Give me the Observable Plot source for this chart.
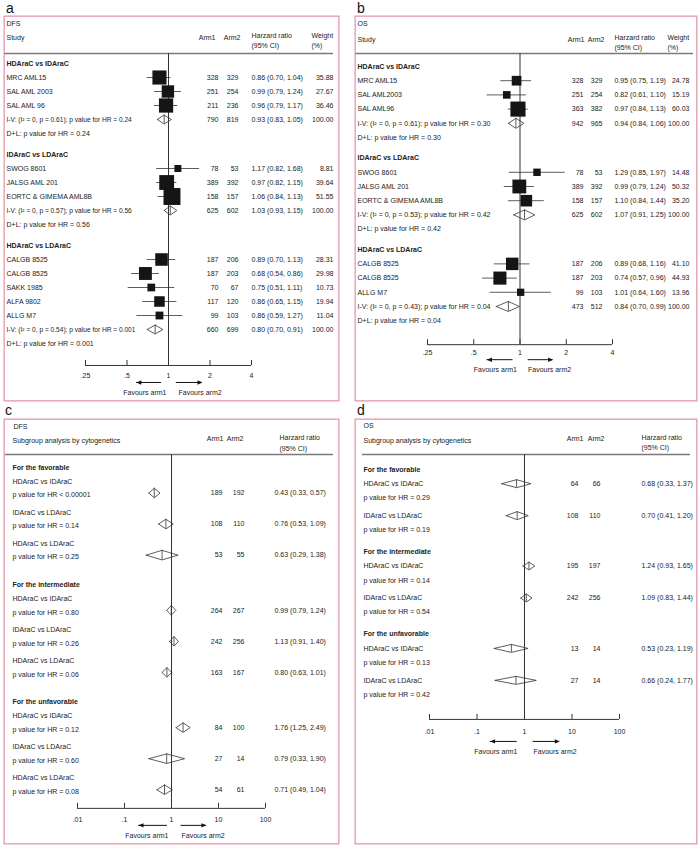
<!DOCTYPE html>
<html><head><meta charset="utf-8">
<script src="https://cdn.jsdelivr.net/npm/d3@7"></script>
<script src="https://cdn.jsdelivr.net/npm/@observablehq/plot@0.6"></script>
<style>
body{margin:0;background:#fff;}
#root{position:relative;width:700px;height:847px;font-family:"Liberation Sans",Arial,sans-serif;overflow:hidden;}
.lbl{position:absolute;font-size:14px;line-height:14px;color:#111;}
</style></head><body><div id="root"></div>
<script>
const FONT = "'Liberation Sans', Arial, Helvetica, sans-serif";
const INK = "#222";
const PINK = "#e597aa";

// ---------- Panel a: DFS ----------
const aGroups = ["HDAraC vs IDAraC", "IDAraC vs LDAraC", "HDAraC vs LDAraC"];
const aStudies = ["MRC AML15","SAL AML 2003","SAL AML 96","SWOG 8601","JALSG AML 201","EORTC & GIMEMA AML8B","CALGB 8525","CALGB 8525","SAKK 1985","ALFA 9802","ALLG M7"];
const aStudyGroup = [0,0,0,1,1,1,2,2,2,2,2];
const aArm1 = [328,251,211,78,389,158,187,187,70,117,99];
const aArm2 = [329,254,236,53,392,157,206,203,67,120,103];
const aHR = [0.86,0.99,0.96,1.17,0.97,1.06,0.89,0.68,0.75,0.86,0.86];
const aLo = [0.70,0.79,0.79,0.82,0.82,0.84,0.70,0.54,0.51,0.65,0.59];
const aHi = [1.04,1.24,1.17,1.68,1.15,1.13,1.13,0.86,1.11,1.15,1.27];
const aWeight = [35.88,27.67,36.46,8.81,39.64,51.55,28.31,29.98,10.73,19.94,11.04];
const aPoolArm1 = [790,625,660];
const aPoolArm2 = [819,602,699];
const aPoolHR = [0.93,1.03,0.80];
const aPoolLo = [0.83,0.93,0.70];
const aPoolHi = [1.05,1.15,0.91];
const aHetP = ["0.61","0.57","0.54"];
const aPoolP = ["0.24","0.56","0.001"];
const aTicks = [0.25,0.5,1,2,4];
const aTickLabels = [".25",".5","1","2","4"];

// ---------- Panel b: OS ----------
const bGroups = ["HDAraC vs IDAraC", "IDAraC vs LDAraC", "HDAraC vs LDAraC"];
const bStudies = ["MRC AML15","SAL AML2003","SAL AML96","SWOG 8601","JALSG AML 201","EORTC & GIMEMA AML8B","CALGB 8525","CALGB 8525","ALLG M7"];
const bStudyGroup = [0,0,0,1,1,1,2,2,2];
const bArm1 = [328,251,363,78,389,158,187,187,99];
const bArm2 = [329,254,382,53,392,157,206,203,103];
const bHR = [0.95,0.82,0.97,1.29,0.99,1.10,0.89,0.74,1.01];
const bLo = [0.75,0.61,0.84,0.85,0.79,0.84,0.68,0.57,0.64];
const bHi = [1.19,1.10,1.13,1.97,1.24,1.44,1.16,0.96,1.60];
const bWeight = [24.78,15.19,60.03,14.48,50.32,35.20,41.10,44.93,13.96];
const bPoolArm1 = [942,625,473];
const bPoolArm2 = [965,602,512];
const bPoolHR = [0.94,1.07,0.84];
const bPoolLo = [0.84,0.91,0.70];
const bPoolHi = [1.06,1.25,0.99];
const bHetP = ["0.61","0.53","0.43"];
const bPoolP = ["0.30","0.42","0.04"];
const bTicks = [0.25,0.5,1,2,4];
const bTickLabels = [".25",".5","1","2","4"];

// ---------- Panel c: DFS subgroups ----------
const cGroups = ["For the favorable","For the intermediate","For the unfavorable"];
const cComps = ["HDAraC vs IDAraC","IDAraC vs LDAraC","HDAraC vs LDAraC","HDAraC vs IDAraC","IDAraC vs LDAraC","HDAraC vs LDAraC","HDAraC vs IDAraC","IDAraC vs LDAraC","HDAraC vs LDAraC"];
const cCompGroup = [0,0,0,1,1,1,2,2,2];
const cArm1 = [189,108,53,264,242,163,84,27,54];
const cArm2 = [192,110,55,267,256,167,100,14,61];
const cHR = [0.43,0.76,0.63,0.99,1.13,0.80,1.76,0.79,0.71];
const cLo = [0.33,0.53,0.29,0.79,0.91,0.63,1.25,0.33,0.49];
const cHi = [0.57,1.09,1.38,1.24,1.40,1.01,2.49,1.90,1.04];
const cP = ["< 0.00001","= 0.14","= 0.25","= 0.80","= 0.26","= 0.06","= 0.12","= 0.60","= 0.08"];
const cTicks = [0.01,0.1,1,10,100];
const cTickLabels = [".01",".1","1","10","100"];

// ---------- Panel d: OS subgroups ----------
const dGroups = ["For the favorable","For the intermediate","For the unfavorable"];
const dComps = ["HDAraC vs IDAraC","IDAraC vs LDAraC","HDAraC vs IDAraC","IDAraC vs LDAraC","HDAraC vs IDAraC","IDAraC vs LDAraC"];
const dCompGroup = [0,0,1,1,2,2];
const dArm1 = [64,108,195,242,13,27];
const dArm2 = [66,110,197,256,14,14];
const dHR = [0.68,0.70,1.24,1.09,0.53,0.66];
const dLo = [0.33,0.41,0.93,0.83,0.23,0.24];
const dHi = [1.37,1.20,1.65,1.44,1.19,1.77];
const dP = ["= 0.29","= 0.19","= 0.14","= 0.54","= 0.13","= 0.42"];
const dTicks = [0.01,0.1,1,10,100];
const dTickLabels = [".01",".1","1","10","100"];

// ---------- helpers ----------
const fmtHR = (h, l, u) => `${h.toFixed(2)} (${l.toFixed(2)}, ${u.toFixed(2)})`;
const triLeft = {draw(ctx, size) { const r = Math.sqrt(size / Math.PI); ctx.moveTo(0, 0); ctx.lineTo(2.2 * r, -r); ctx.lineTo(2.2 * r, r); ctx.closePath(); }};
const triRight = {draw(ctx, size) { const r = Math.sqrt(size / Math.PI); ctx.moveTo(0, 0); ctx.lineTo(-2.2 * r, -r); ctx.lineTo(-2.2 * r, r); ctx.closePath(); }};

function textMark(fs) {
  const base = {frameAnchor: "left", fill: INK, fontSize: fs};
  return (t, row, dx, anchor = "start", extra = {}) =>
    Plot.text([t], {...base, y: [row], text: d => d, dx, textAnchor: anchor, ...extra});
}

function axisMarks(o, axisRow, L) {
  const last = o.ticks.length - 1;
  return [
    Plot.ruleY([0], {y: () => axisRow, x1: () => o.ticks[0], x2: () => o.ticks[last], stroke: "#333", strokeWidth: 1}),
    Plot.ruleX(o.ticks, {x: d => d, y1: () => axisRow, y2: () => axisRow - 5 / L, stroke: "#333", strokeWidth: 1}),
    Plot.text(o.ticks, {x: d => d, y: () => axisRow, text: (d, i) => o.tickLabels[i], dy: o.tickDy, fontSize: 7, fill: INK}),
    Plot.ruleY([0], {y: () => axisRow, x1: () => o.arrL[0], x2: () => o.arrL[1], dy: o.arrowDy, stroke: "#111", strokeWidth: 1}),
    Plot.ruleY([0], {y: () => axisRow, x1: () => o.arrR[0], x2: () => o.arrR[1], dy: o.arrowDy, stroke: "#111", strokeWidth: 1}),
    Plot.dot([0], {x: () => o.arrL[1], y: () => axisRow, dy: o.arrowDy, symbol: triLeft, r: 2.2, fill: "#111", stroke: "none"}),
    Plot.dot([0], {x: () => o.arrR[1], y: () => axisRow, dy: o.arrowDy, symbol: triRight, r: 2.2, fill: "#111", stroke: "none"}),
    Plot.text(["Favours arm1"], {x: () => 1, y: () => axisRow, dy: o.favDy, dx: o.favDx[0], textAnchor: "end", fontSize: 7, fill: INK}),
    Plot.text(["Favours arm2"], {x: () => 1, y: () => axisRow, dy: o.favDy, dx: o.favDx[1], textAnchor: "start", fontSize: 7, fill: INK})
  ];
}

function metaPanel(o) {
  const L = o.L;
  const studies = [], pools = [], heads = [];
  let r = 0;
  o.groups.forEach((g, gi) => {
    heads.push({label: g, row: r}); r += 1;
    o.studies.forEach((s, i) => {
      if (o.studyGroup[i] !== gi) return;
      studies.push({name: s, a1: o.arm1[i], a2: o.arm2[i], hr: o.hr[i], lo: o.lo[i], hi: o.hi[i], w: o.weight[i], row: r});
      r += 1;
    });
    pools.push({a1: o.poolArm1[gi], a2: o.poolArm2[gi], hr: o.poolHR[gi], lo: o.poolLo[gi], hi: o.poolHi[gi], het: o.hetP[gi], p: o.poolP[gi], row: r, id: gi});
    r += 2 + o.gap;
  });
  const axisRow = pools[pools.length - 1].row + 1 + o.axisGap;
  const R = px => (px - o.top) / L;
  const h = o.dh / L;
  const diamonds = pools.flatMap(p => [[p.lo, p.row], [p.hr, p.row - h], [p.hi, p.row], [p.hr, p.row + h], [p.lo, p.row]].map(([x, y]) => ({x, y, id: p.id})));
  const c = o.cols;
  const T = textMark(7);
  const base = {frameAnchor: "left", fill: INK, fontSize: 7};
  return Plot.plot({
    width: o.width, height: o.height, margin: 0,
    style: {fontFamily: FONT, fontSize: "7px", background: "transparent", overflow: "visible"},
    x: {type: "log", domain: [o.ticks[0], o.ticks[o.ticks.length - 1]], range: o.xRange, axis: null},
    y: {domain: [0, axisRow], range: [o.top, o.top + axisRow * L], axis: null},
    r: {type: "sqrt", domain: [0, 100], range: [0, o.rMax]},
    marks: [
      Plot.frame({stroke: PINK, strokeWidth: 1.3, inset: 0.65}),
      T(o.title, R(o.hdr.title), c.name),
      T("Study", R(o.hdr.label), c.name),
      T("Arm1", R(o.hdr.label), c.a1h, "end"),
      T("Arm2", R(o.hdr.label), c.a2h, "end"),
      T("Harzard ratio", R(o.hdr.hr1), c.hr),
      T("(95% CI)", R(o.hdr.hr2), c.hr),
      T("Weight", R(o.hdr.hr1), c.wh),
      T("(%)", R(o.hdr.hr2), c.wh),
      Plot.ruleY([R(o.hdr.line)], {insetLeft: c.lineL, insetRight: c.lineR, stroke: "#7a7a7a", strokeWidth: 1.6}),
      Plot.ruleX([1], {y1: () => R(o.hdr.line), y2: () => axisRow, stroke: "#333", strokeWidth: 1}),
      Plot.text(heads, {...base, y: "row", text: "label", dx: c.name, fontWeight: "bold"}),
      Plot.text(studies, {...base, y: "row", text: "name", dx: c.name}),
      Plot.text(studies, {...base, y: "row", text: d => String(d.a1), dx: c.a1, textAnchor: "end"}),
      Plot.text(studies, {...base, y: "row", text: d => String(d.a2), dx: c.a2, textAnchor: "end"}),
      Plot.text(studies, {...base, y: "row", text: d => fmtHR(d.hr, d.lo, d.hi), dx: c.hr}),
      Plot.text(studies, {...base, y: "row", text: d => d.w.toFixed(2), dx: c.w, textAnchor: "end"}),
      Plot.ruleY(studies, {y: "row", x1: "lo", x2: "hi", stroke: "#333", strokeWidth: 0.8}),
      Plot.dot(studies, {x: "hr", y: "row", r: "w", symbol: "square", fill: "#151515", stroke: "none"}),
      Plot.text(pools, {...base, y: "row", text: d => `I-V: (I\u00B2 = 0, p = ${d.het}); p value for HR = ${d.p}`, dx: c.name, fontSize: o.ivFont}),
      Plot.text(pools, {...base, y: d => d.row + 1, text: d => `D+L: p value for HR = ${d.p}`, dx: c.name}),
      Plot.text(pools, {...base, y: "row", text: d => String(d.a1), dx: c.a1, textAnchor: "end"}),
      Plot.text(pools, {...base, y: "row", text: d => String(d.a2), dx: c.a2, textAnchor: "end"}),
      Plot.text(pools, {...base, y: "row", text: d => fmtHR(d.hr, d.lo, d.hi), dx: c.hr}),
      Plot.text(pools, {...base, y: "row", text: () => (100).toFixed(2), dx: c.w, textAnchor: "end"}),
      Plot.line(diamonds, {x: "x", y: "y", z: "id", stroke: "#333", strokeWidth: 0.8, fill: "none"}),
      Plot.ruleX(pools, {x: "hr", y1: d => d.row - h, y2: d => d.row + h, stroke: "#333", strokeWidth: 0.8}),
      ...axisMarks(o, axisRow, L)
    ]
  });
}

function subPanel(o) {
  const L = o.L;
  const heads = [], comps = [];
  let r = 0;
  o.groups.forEach((g, gi) => {
    heads.push({label: g, row: r}); r += 1;
    let first = true;
    o.comps.forEach((name, i) => {
      if (o.compGroup[i] !== gi) return;
      if (!first) r += o.cs;
      first = false;
      comps.push({name, a1: o.arm1[i], a2: o.arm2[i], hr: o.hr[i], lo: o.lo[i], hi: o.hi[i], p: o.p[i], row: r, id: i});
    });
    r += o.ng;
  });
  const axisRow = comps[comps.length - 1].row + o.axisGap;
  const R = px => (px - o.top) / L;
  const h = o.dh / L;
  const k = o.numOff;
  const diamonds = comps.flatMap(p => [[p.lo, p.row + k], [p.hr, p.row + k - h], [p.hi, p.row + k], [p.hr, p.row + k + h], [p.lo, p.row + k]].map(([x, y]) => ({x, y, id: p.id})));
  const c = o.cols;
  const T = textMark(7);
  const base = {frameAnchor: "left", fill: INK, fontSize: 7};
  return Plot.plot({
    width: o.width, height: o.height, margin: 0,
    style: {fontFamily: FONT, fontSize: "7px", background: "transparent", overflow: "visible"},
    x: {type: "log", domain: [o.ticks[0], o.ticks[o.ticks.length - 1]], range: o.xRange, axis: null},
    y: {domain: [0, axisRow], range: [o.top, o.top + axisRow * L], axis: null},
    marks: [
      Plot.frame({stroke: PINK, strokeWidth: 1.3, inset: 0.65}),
      T(o.title, R(o.hdr.title), c.title),
      T("Subgroup analysis by cytogenetics", R(o.hdr.label), c.name),
      T("Arm1", R(o.hdr.arm), c.a1h, "end"),
      T("Arm2", R(o.hdr.arm), c.a2h, "end"),
      T("Harzard ratio", R(o.hdr.hr1), c.hrh),
      T("(95% CI)", R(o.hdr.hr2), c.hrh),
      Plot.ruleY([R(o.hdr.line)], {insetLeft: c.lineL, insetRight: c.lineR, stroke: "#7a7a7a", strokeWidth: 1.6}),
      Plot.ruleX([1], {y1: () => R(o.hdr.line), y2: () => axisRow, stroke: "#333", strokeWidth: 1}),
      Plot.text(heads, {...base, y: "row", text: "label", dx: c.name, fontWeight: "bold"}),
      Plot.text(comps, {...base, y: "row", text: "name", dx: c.name}),
      Plot.text(comps, {...base, y: d => d.row + 1, text: d => `p value for HR ${d.p}`, dx: c.name}),
      Plot.text(comps, {...base, y: d => d.row + k, text: d => String(d.a1), dx: c.a1, textAnchor: "end"}),
      Plot.text(comps, {...base, y: d => d.row + k, text: d => String(d.a2), dx: c.a2, textAnchor: "end"}),
      Plot.text(comps, {...base, y: d => d.row + k, text: d => fmtHR(d.hr, d.lo, d.hi), dx: c.hr}),
      Plot.line(diamonds, {x: "x", y: "y", z: "id", stroke: "#333", strokeWidth: 0.8, fill: "none"}),
      Plot.ruleX(comps, {x: "hr", y1: d => d.row + k - h, y2: d => d.row + k + h, stroke: "#333", strokeWidth: 0.8}),
      ...axisMarks(o, axisRow, L)
    ]
  });
}

// ---------- build ----------
const root = document.getElementById("root");
function place(node, left, top) {
  node.style.position = "absolute";
  node.style.left = left + "px";
  node.style.top = top + "px";
  root.appendChild(node);
}
function label(t, left, top) {
  const d = document.createElement("div");
  d.className = "lbl"; d.textContent = t;
  d.style.left = left + "px"; d.style.top = top + "px";
  root.appendChild(d);
}

place(metaPanel({
  title: "DFS", width: 336, height: 386, top: 48, L: 14.0, gap: 0.5, axisGap: 1.57,
  groups: aGroups, studies: aStudies, studyGroup: aStudyGroup, arm1: aArm1, arm2: aArm2,
  hr: aHR, lo: aLo, hi: aHi, weight: aWeight,
  poolArm1: aPoolArm1, poolArm2: aPoolArm2, poolHR: aPoolHR, poolLo: aPoolLo, poolHi: aPoolHi,
  hetP: aHetP, poolP: aPoolP, ticks: aTicks, tickLabels: aTickLabels,
  xRange: [82, 248], rMax: 13.3, dh: 4.5, ivFont: 6.6,
  hdr: {title: 8, label: 22, hr1: 20, hr2: 30, line: 38},
  cols: {name: 3, a1: 215, a2: 235, a1h: 212, a2h: 237, hr: 248, w: 330, wh: 308, lineL: 1.5, lineR: 6},
  tickDy: 10, arrowDy: 17, favDy: 27, favDx: [-2, 10],
  arrL: [0.89, 0.586], arrR: [1.14, 1.76]
}), 3, 15);

place(metaPanel({
  title: "OS", width: 343, height: 386, top: 51, L: 14.2, gap: 0.45, axisGap: 1.69,
  groups: bGroups, studies: bStudies, studyGroup: bStudyGroup, arm1: bArm1, arm2: bArm2,
  hr: bHR, lo: bLo, hi: bHi, weight: bWeight,
  poolArm1: bPoolArm1, poolArm2: bPoolArm2, poolHR: bPoolHR, poolLo: bPoolLo, poolHi: bPoolHi,
  hetP: bHetP, poolP: bPoolP, ticks: bTicks, tickLabels: bTickLabels,
  xRange: [73, 258], rMax: 11.0, dh: 5, ivFont: 7,
  hdr: {title: 8, label: 24, hr1: 22, hr2: 32, line: 38},
  cols: {name: 3, a1: 229, a2: 248, a1h: 230, a2h: 250, hr: 260, w: 335, wh: 313, lineL: 1.5, lineR: 4},
  tickDy: 8, arrowDy: 15, favDy: 25, favDx: [-3, 8],
  arrL: [0.90, 0.61], arrR: [1.13, 1.64]
}), 354, 15);

place(subPanel({
  title: "DFS", width: 336, height: 426, top: 49, L: 13.8, cs: 2.25, ng: 3.0, axisGap: 2.2, numOff: 0.85, dh: 4.8,
  groups: cGroups, comps: cComps, compGroup: cCompGroup, arm1: cArm1, arm2: cArm2,
  hr: cHR, lo: cLo, hi: cHi, p: cP, ticks: cTicks, tickLabels: cTickLabels,
  xRange: [74, 262],
  hdr: {title: 8, label: 22, arm: 20, hr1: 19, hr2: 30, line: 36},
  cols: {title: 10, name: 9, a1: 219, a2: 241, a1h: 220, a2h: 240, hr: 271, hrh: 276, lineL: 2, lineR: 6},
  tickDy: 11, arrowDy: 17, favDy: 27, favDx: [-3, 10],
  arrL: [0.82, 0.2], arrR: [1.6, 5.5]
}), 3, 418);

place(subPanel({
  title: "OS", width: 343, height: 426, top: 51, L: 14.2, cs: 2.25, ng: 2.55, axisGap: 2.75, numOff: 0, dh: 4,
  groups: dGroups, comps: dComps, compGroup: dCompGroup, arm1: dArm1, arm2: dArm2,
  hr: dHR, lo: dLo, hi: dHi, p: dP, ticks: dTicks, tickLabels: dTickLabels,
  xRange: [75, 265],
  hdr: {title: 7, label: 22, arm: 20, hr1: 19, hr2: 29, line: 36},
  cols: {title: 9, name: 9, a1: 224, a2: 246, a1h: 229, a2h: 250, hr: 287, hrh: 287, lineL: 8, lineR: 7},
  tickDy: 12, arrowDy: 22, favDy: 32, favDx: [-7, 9],
  arrL: [0.70, 0.19], arrR: [1.52, 5.5]
}), 354, 418);

label("a", 6, 1);
label("b", 357, 1);
label("c", 5, 403);
label("d", 357, 403);
</script>
</body></html>
